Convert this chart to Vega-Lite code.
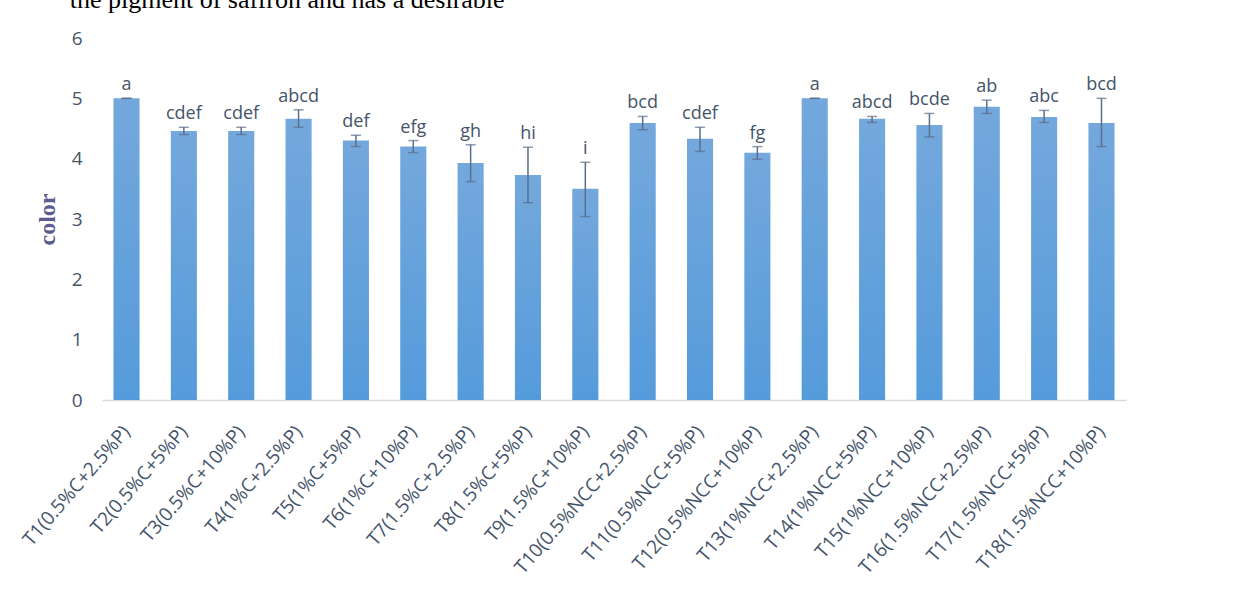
{
  "$schema": "https://vega.github.io/schema/vega-lite/v6.json",
  "autosize": {"type": "none"},
  "padding": {"left": 102, "top": 38, "right": 123, "bottom": 198},
  "width": 1024,
  "height": 362,
  "background": "white",
  "title": {
    "text": "the  pigment  of  saffron  and  has  a  desirable",
    "anchor": "start",
    "font": "Liberation Serif",
    "fontSize": 26,
    "fontWeight": "normal",
    "color": "#000000",
    "baseline": "alphabetic",
    "offset": -5,
    "dx": 50
  },
  "config": {
    "view": {"stroke": null},
    "font": "Open Sans"
  },
  "data": {
    "values": [
      {"t": "T1(0.5%C+2.5%P)", "mean": 5.0, "lo": 5.0, "hi": 5.0, "letter": "a"},
      {"t": "T2(0.5%C+5%P)", "mean": 4.46, "lo": 4.40, "hi": 4.52, "letter": "cdef"},
      {"t": "T3(0.5%C+10%P)", "mean": 4.46, "lo": 4.40, "hi": 4.52, "letter": "cdef"},
      {"t": "T4(1%C+2.5%P)", "mean": 4.66, "lo": 4.52, "hi": 4.81, "letter": "abcd"},
      {"t": "T5(1%C+5%P)", "mean": 4.30, "lo": 4.20, "hi": 4.39, "letter": "def"},
      {"t": "T6(1%C+10%P)", "mean": 4.20, "lo": 4.10, "hi": 4.30, "letter": "efg"},
      {"t": "T7(1.5%C+2.5%P)", "mean": 3.93, "lo": 3.62, "hi": 4.23, "letter": "gh"},
      {"t": "T8(1.5%C+5%P)", "mean": 3.73, "lo": 3.27, "hi": 4.19, "letter": "hi"},
      {"t": "T9(1.5%C+10%P)", "mean": 3.50, "lo": 3.04, "hi": 3.94, "letter": "i"},
      {"t": "T10(0.5%NCC+2.5%P)", "mean": 4.59, "lo": 4.48, "hi": 4.70, "letter": "bcd"},
      {"t": "T11(0.5%NCC+5%P)", "mean": 4.33, "lo": 4.12, "hi": 4.52, "letter": "cdef"},
      {"t": "T12(0.5%NCC+10%P)", "mean": 4.10, "lo": 3.99, "hi": 4.20, "letter": "fg"},
      {"t": "T13(1%NCC+2.5%P)", "mean": 5.0, "lo": 5.0, "hi": 5.0, "letter": "a"},
      {"t": "T14(1%NCC+5%P)", "mean": 4.66, "lo": 4.60, "hi": 4.70, "letter": "abcd"},
      {"t": "T15(1%NCC+10%P)", "mean": 4.56, "lo": 4.36, "hi": 4.75, "letter": "bcde"},
      {"t": "T16(1.5%NCC+2.5%P)", "mean": 4.86, "lo": 4.75, "hi": 4.97, "letter": "ab"},
      {"t": "T17(1.5%NCC+5%P)", "mean": 4.69, "lo": 4.60, "hi": 4.80, "letter": "abc"},
      {"t": "T18(1.5%NCC+10%P)", "mean": 4.59, "lo": 4.20, "hi": 5.0, "letter": "bcd"}
    ]
  },
  "encoding": {
    "x": {
      "field": "t",
      "type": "nominal",
      "sort": null,
      "scale": {"paddingInner": 0.545, "paddingOuter": 0.2},
      "axis": {
        "title": null,
        "labelAngle": -49,
        "labelFont": "Open Sans",
        "labelFontSize": 19,
        "labelColor": "#44546a",
        "labelPadding": 28,
        "ticks": false,
        "domainColor": "#d9d9d9",
        "domainWidth": 1.5,
        "labelLimit": 300
      }
    }
  },
  "layer": [
    {
      "mark": {
        "type": "bar",
        "color": {
          "gradient": "linear",
          "x1": 0, "y1": 0, "x2": 0, "y2": 1,
          "stops": [
            {"offset": 0, "color": "#74a8dc"},
            {"offset": 1, "color": "#559bdb"}
          ]
        }
      },
      "encoding": {
        "y": {
          "field": "mean",
          "type": "quantitative",
          "title": "color",
          "scale": {"domain": [0, 6], "nice": false},
          "axis": {
            "values": [0, 1, 2, 3, 4, 5, 6],
            "format": "d",
            "grid": false,
            "ticks": false,
            "domain": false,
            "labelFont": "Open Sans",
            "labelFontSize": 19,
            "labelColor": "#44546a",
            "labelPadding": 20,
            "titleFont": "Liberation Serif",
            "titleFontSize": 24,
            "titleFontWeight": "bold",
            "titleColor": "#5b5b8f",
            "titlePadding": 12
          }
        }
      }
    },
    {
      "mark": {
        "type": "errorbar",
        "color": "#5b6e8c",
        "thickness": 1.5,
        "ticks": {"size": 10, "thickness": 1.5, "color": "#5b6e8c"}
      },
      "encoding": {
        "y": {"field": "lo", "type": "quantitative", "title": "color"},
        "y2": {"field": "hi"}
      }
    },
    {
      "mark": {
        "type": "text",
        "font": "Open Sans",
        "fontSize": 18,
        "color": "#44546a",
        "baseline": "alphabetic",
        "dy": -8
      },
      "encoding": {
        "y": {"field": "hi", "type": "quantitative", "title": "color"},
        "text": {"field": "letter"}
      }
    }
  ]
}
